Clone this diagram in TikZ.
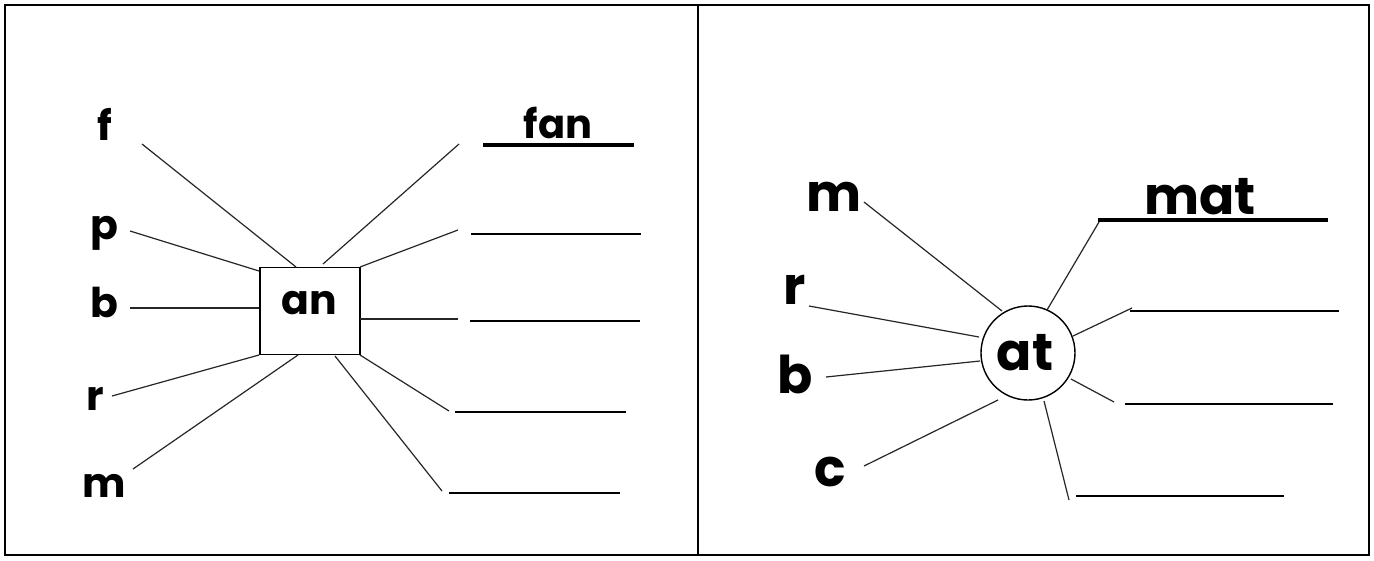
\documentclass[tikz,border=0pt]{standalone}
\usepackage{fontspec}
\setmainfont{Poppins}
\begin{document}
\begin{tikzpicture}[x=1pt,y=-1pt,
  thinline/.style={line width=1.2pt,black!85},
  blank/.style={line width=2.4pt},
  thickblank/.style={line width=4.6pt},
  lblL/.style={anchor=base,inner sep=0pt,font=\fontsize{41}{41}\selectfont\bfseries},
  lblR/.style={anchor=base,inner sep=0pt,font=\fontsize{52}{52}\selectfont\bfseries},
  answerL/.style={anchor=base,inner sep=0pt,font=\fontsize{40}{40}\selectfont\bfseries},
]
\useasboundingbox (0,0) rectangle (1374,560);
\fill[white] (0,0) rectangle (1374,560);
% frames
\draw[line width=2.6pt] (5,5) rectangle (1369,555);
\draw[line width=2.2pt] (698,5) -- (698,555);

%% ---------- left panel ----------
\node[draw,line width=1.4pt,minimum width=100pt,minimum height=87pt,inner sep=0pt] (box) at (310,311) {};
\node[lblL] (an) at (309,314) {an};

\node[lblL] (f) at (105,140) {f};
\node[lblL] (p) at (104,239) {p};
\node[lblL] (b) at (104,317) {b};
\node[lblL] (r) at (95,410) {r};
\node[lblL] (m) at (104,497) {m};

\coordinate (fL) at (142,144);  \coordinate (fB) at (296,267);
\coordinate (pL) at (130,231);  \coordinate (pB) at (259,271);
\coordinate (bL) at (130,308);  \coordinate (bB) at (259,308);
\coordinate (rL) at (112,396);  \coordinate (rB) at (259,355);
\coordinate (mL) at (133,469);  \coordinate (mB) at (298,355);
\draw[thinline] (fL) -- (fB);
\draw[thinline] (pL) -- (pB);
\draw[thinline] (bL) -- (bB);
\draw[thinline] (rL) -- (rB);
\draw[thinline] (mL) -- (mB);

\coordinate (a1R) at (459,144); \coordinate (a1B) at (323,264);
\coordinate (a2R) at (458,230); \coordinate (a2B) at (360,267);
\coordinate (a3R) at (458,319); \coordinate (a3B) at (360,319);
\coordinate (a4R) at (449,411); \coordinate (a4B) at (360,355);
\coordinate (a5R) at (442,491); \coordinate (a5B) at (335,356);
\draw[thinline] (a1B) -- (a1R);
\draw[thinline] (a2B) -- (a2R);
\draw[thinline] (a3B) -- (a3R);
\draw[thinline] (a4B) -- (a4R);
\draw[thinline] (a5B) -- (a5R);

\node[answerL] (fan) at (558,138) {fan};
\coordinate (u1a) at (483,145); \coordinate (u1b) at (634,145);
\coordinate (u2a) at (471,234); \coordinate (u2b) at (641,234);
\coordinate (u3a) at (470,321); \coordinate (u3b) at (640,321);
\coordinate (u4a) at (455,412); \coordinate (u4b) at (626,412);
\coordinate (u5a) at (449,493); \coordinate (u5b) at (620,493);
\draw[thickblank] (u1a) -- (u1b);
\draw[blank] (u2a) -- (u2b);
\draw[blank] (u3a) -- (u3b);
\draw[blank] (u4a) -- (u4b);
\draw[blank] (u5a) -- (u5b);

%% ---------- right panel ----------
\node[draw,circle,line width=1.4pt,minimum size=94pt,inner sep=0pt] (circ) at (1028,353) {};
\node[lblR] (at) at (1025,370) {at};

\node[lblR] (m2) at (834,211) {m};
\node[lblR] (r2) at (795,304) {r};
\node[lblR] (b2) at (795,393) {b};
\node[lblR] (c2) at (830,486) {c};

\coordinate (m2L) at (864,202); \coordinate (m2C) at (1002,311);
\coordinate (r2L) at (809,306); \coordinate (r2C) at (979,337);
\coordinate (b2L) at (826,377); \coordinate (b2C) at (980,361);
\coordinate (c2L) at (864,466); \coordinate (c2C) at (998,400);
\draw[thinline] (m2L) -- (m2C);
\draw[thinline] (r2L) -- (r2C);
\draw[thinline] (b2L) -- (b2C);
\draw[thinline] (c2L) -- (c2C);

\coordinate (d1C) at (1047,310); \coordinate (d1R) at (1099,222);
\coordinate (d2C) at (1073,336); \coordinate (d2R) at (1132,308);
\coordinate (d3C) at (1071,379); \coordinate (d3R) at (1114,402);
\coordinate (d4C) at (1044,401); \coordinate (d4R) at (1069,500);
\draw[thinline] (d1C) -- (d1R);
\draw[thinline] (d2C) -- (d2R);
\draw[thinline] (d3C) -- (d3R);
\draw[thinline] (d4C) -- (d4R);

\node[lblR] (mat) at (1200,214) {mat};
\coordinate (v1a) at (1098,220); \coordinate (v1b) at (1328,220);
\coordinate (v2a) at (1130,311); \coordinate (v2b) at (1339,311);
\coordinate (v3a) at (1125,404); \coordinate (v3b) at (1333,404);
\coordinate (v4a) at (1076,496); \coordinate (v4b) at (1284,496);
\draw[line width=4.8pt] (v1a) -- (v1b);
\draw[blank] (v2a) -- (v2b);
\draw[blank] (v3a) -- (v3b);
\draw[blank] (v4a) -- (v4b);
\end{tikzpicture}
\end{document}
